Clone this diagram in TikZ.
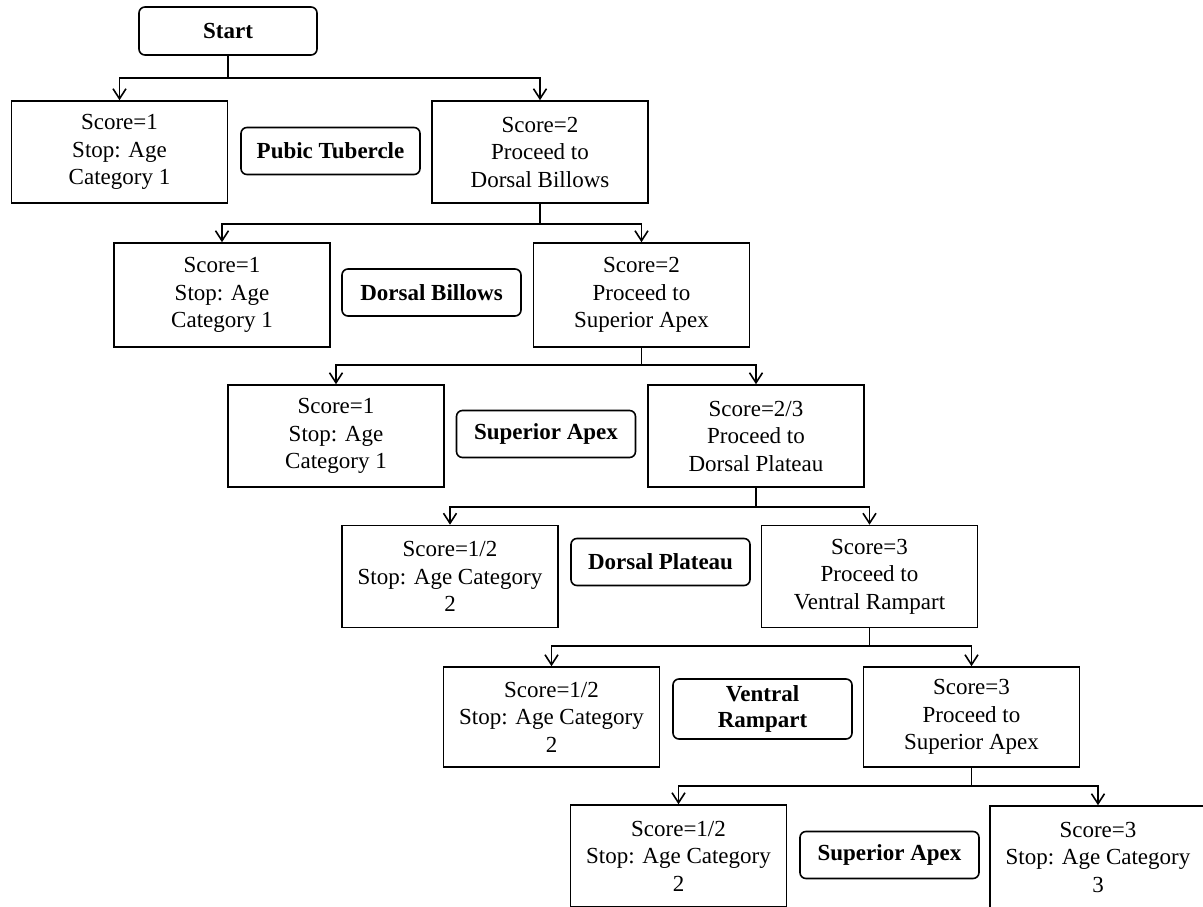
\documentclass[tikz,border=0pt]{standalone}
\usepackage{fontspec}
\setmainfont{Liberation Serif}
\usetikzlibrary{arrows.meta}
\begin{document}
\begin{tikzpicture}[x=1pt,y=-1pt,
  every node/.style={font=\fontsize{23}{27.5}\selectfont},
  box/.style={draw, line width=1.6pt, minimum width=216pt, minimum height=102pt, align=center, inner sep=0pt},
  lab/.style={draw, line width=1.6pt, rounded corners=6pt, minimum width=179pt, minimum height=47pt, align=center, inner sep=0pt, font=\fontsize{23}{26}\selectfont\bfseries},
  link/.style={line width=1.6pt},
  arr/.style={link, -{Straight Barb[length=10pt,width=13pt]}}]
\clip (0,0) rectangle (1203,907);
\useasboundingbox (0,0) rectangle (1203,907);

\node[lab, minimum width=178pt, minimum height=48pt] (start) at (228,31) {Start};

% level 1
\node[box] (l1a) at (119.5,152) {Score=1\\Stop: Age\\Category 1};
\node[lab] (t1) at (330.5,151) {Pubic Tubercle};
\node[box] (l1b) at (540,152) {Score=2\\Proceed to\\Dorsal Billows};

% level 2
\node[box, minimum height=104pt] (l2a) at (222,295) {Score=1\\Stop: Age\\Category 1};
\node[lab] (t2) at (431.5,292.5) {Dorsal Billows};
\node[box, minimum height=104pt] (l2b) at (641.5,295) {Score=2\\Proceed to\\Superior Apex};

% level 3
\node[box] (l3a) at (336,436) {Score=1\\Stop: Age\\Category 1};
\node[lab] (t3) at (546,434) {Superior Apex};
\node[box] (l3b) at (756,436) {Score=2/3\\Proceed to\\Dorsal Plateau};

% level 4
\node[box] (l4a) at (450,576.5) {Score=1/2\\Stop: Age Category\\2};
\node[lab] (t4) at (660.5,562) {Dorsal Plateau};
\node[box] (l4b) at (869.5,576.5) {Score=3\\Proceed to\\Ventral Rampart};

% level 5
\node[box, minimum height=100pt] (l5a) at (551.5,717) {Score=1/2\\Stop: Age Category\\2};
\node[lab, minimum height=60pt] (t5) at (762.5,709) {Ventral\\Rampart};
\node[box, minimum height=100pt] (l5b) at (971.5,717) {Score=3\\Proceed to\\Superior Apex};

% level 6
\node[box] (l6a) at (678.5,856) {Score=1/2\\Stop: Age Category\\2};
\node[lab] (t6) at (889.5,855) {Superior Apex};
\node[box] (l6b) at (1098,857) {Score=3\\Stop: Age Category\\3};

% connectors
\coordinate (j0) at (start.south |- 0,78);
\coordinate (j1) at (l1b.south |- 0,224);
\coordinate (j2) at (l2b.south |- 0,365);
\coordinate (j3) at (l3b.south |- 0,507);
\coordinate (j4) at (l4b.south |- 0,646);
\coordinate (j5) at (l5b.south |- 0,786);

\draw[link] (start.south) -- (j0);
\draw[arr] (j0) -| (l1a.north);
\draw[arr] (j0) -| (l1b.north);

\draw[link] (l1b.south) -- (j1);
\draw[arr] (j1) -| (l2a.north);
\draw[arr] (j1) -| (l2b.north);

\draw[link] (l2b.south) -- (j2);
\draw[arr] (j2) -| (l3a.north);
\draw[arr] (j2) -| (l3b.north);

\draw[link] (l3b.south) -- (j3);
\draw[arr] (j3) -| (l4a.north);
\draw[arr] (j3) -| (l4b.north);

\draw[link] (l4b.south) -- (j4);
\draw[arr] (j4) -| (l5a.north);
\draw[arr] (j4) -| (l5b.north);

\draw[link] (l5b.south) -- (j5);
\draw[arr] (j5) -| (l6a.north);
\draw[arr] (j5) -| (l6b.north);
\end{tikzpicture}
\end{document}
